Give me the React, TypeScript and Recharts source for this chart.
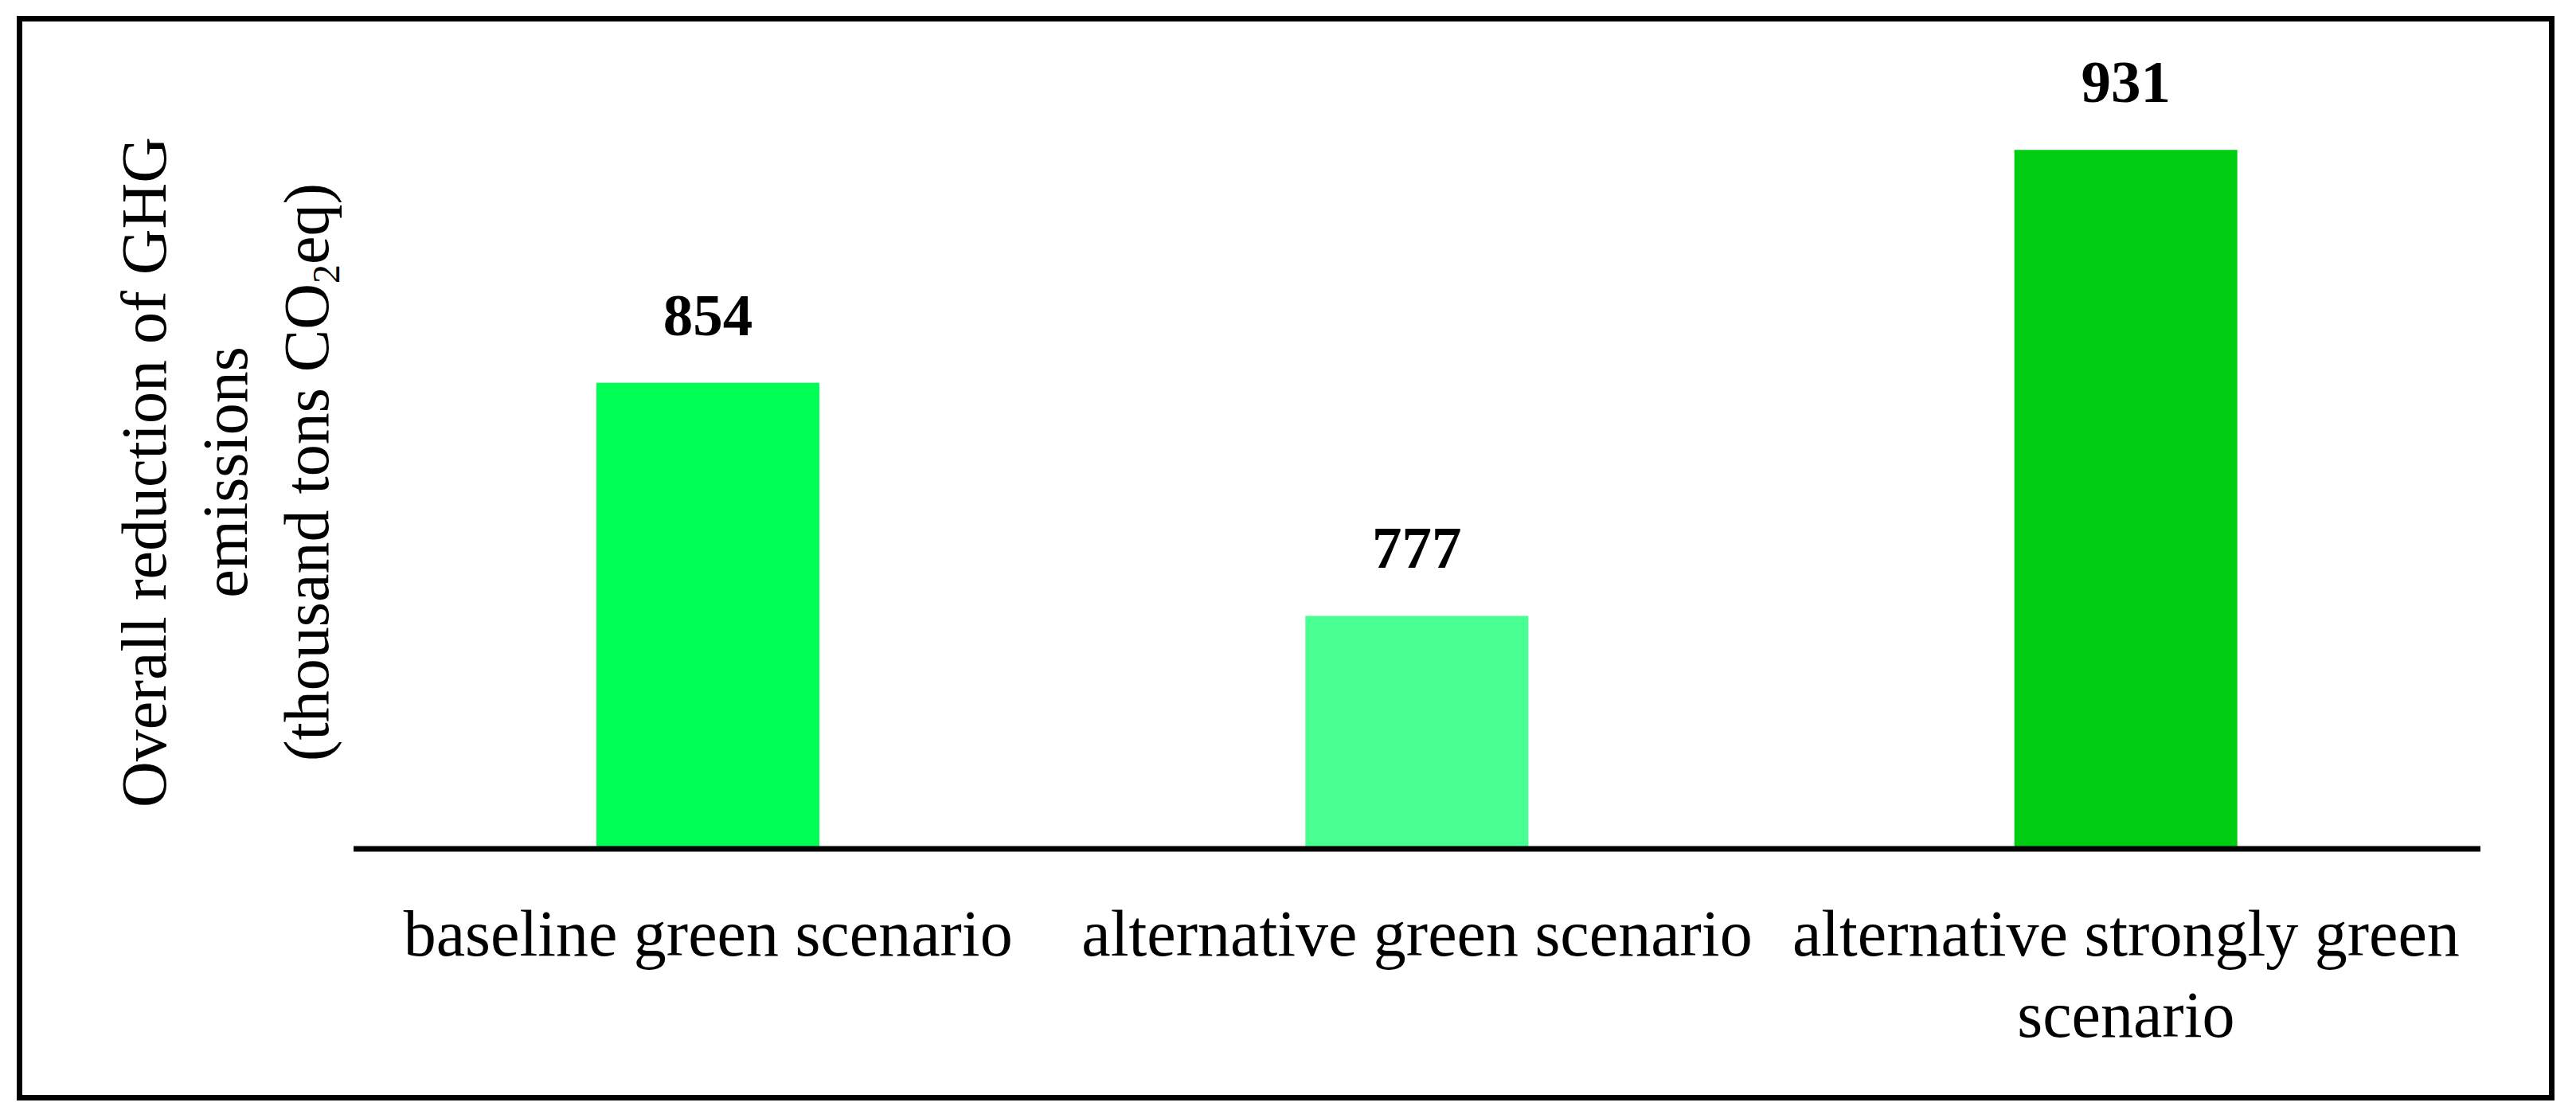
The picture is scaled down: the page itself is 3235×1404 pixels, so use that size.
import React from 'react';
import { BarChart, Bar, XAxis, YAxis, Cell, LabelList } from 'recharts';

const categories = [
  'baseline green scenario',
  'alternative green scenario',
  'alternative strongly green scenario',
];
const tickLabelLines = [
  ['baseline green scenario'],
  ['alternative green scenario'],
  ['alternative strongly green', 'scenario'],
];
const values = [854, 777, 931];
const barColors = ['#00FF55', '#48FF92', '#00CC11'];
const yTitleLine1 = 'Overall reduction of GHG';
const yTitleLine2 = 'emissions';
const yTitleLine3Pre = '(thousand tons CO';
const yTitleLine3Sub = '2';
const yTitleLine3Post = 'eq)';
const yDomain: [number, number] = [700, 950];

const data = categories.map((name, i) => ({ name, value: values[i] }));

const FONT = '"Liberation Serif", "Times New Roman", serif';

function CategoryTick(props: any) {
  const { x, y, payload } = props;
  const idx = categories.indexOf(payload.value);
  const lines = idx >= 0 ? tickLabelLines[idx] : [String(payload.value)];
  const baseY = y + 126;
  return (
    <g>
      {lines.map((line: string, i: number) => (
        <text
          key={i}
          x={x}
          y={baseY + i * 102}
          textAnchor="middle"
          fontSize={82}
          fontFamily={FONT}
          fill="#000"
        >
          {line}
        </text>
      ))}
    </g>
  );
}

function ValueLabel(props: any) {
  const vb = props.viewBox || {};
  const x = props.x ?? vb.x;
  const y = props.y ?? vb.y;
  const width = props.width ?? vb.width;
  return (
    <text
      x={x + width / 2}
      y={y - 60}
      textAnchor="middle"
      fontSize={75}
      fontWeight="bold"
      fontFamily={FONT}
      fill="#000"
    >
      {props.value}
    </text>
  );
}

function YTitle(props: any) {
  const vb = props.viewBox || { x: 0, y: 116, width: 444, height: 950 };
  const cy = vb.y + vb.height / 2 + 2;
  const bx = vb.x + 208;
  return (
    <g transform={`translate(${bx}, ${cy}) rotate(-90)`}>
      <text x={0} y={0} textAnchor="middle" fontSize={80} fontFamily={FONT} fill="#000">
        {yTitleLine1}
      </text>
      <text x={0} y={102} textAnchor="middle" fontSize={80} fontFamily={FONT} fill="#000">
        {yTitleLine2}
      </text>
      <text x={0} y={204} textAnchor="middle" fontSize={80} fontFamily={FONT} fill="#000">
        {yTitleLine3Pre}
        <tspan dy={14} fontSize={48}>{yTitleLine3Sub}</tspan>
        <tspan dy={-14}>{yTitleLine3Post}</tspan>
      </text>
    </g>
  );
}

export default function App() {
  return (
    <div style={{ position: 'absolute', left: 0, top: 0, width: 3235, height: 1404, background: '#fff' }}>
      <BarChart
        width={3235}
        height={1404}
        data={data}
        margin={{ top: 116, right: 120, bottom: 138, left: 0 }}
        barSize={280}
      >
        <XAxis
          dataKey="name"
          height={200}
          interval={0}
          axisLine={{ stroke: '#000', strokeWidth: 7 }}
          tickLine={false}
          tick={<CategoryTick />}
        />
        <YAxis
          type="number"
          domain={yDomain}
          width={444}
          axisLine={false}
          tickLine={false}
          tick={false}
          allowDataOverflow
          label={{ content: <YTitle /> }}
        />
        <Bar dataKey="value" isAnimationActive={false}>
          {data.map((d, i) => (
            <Cell key={d.name} fill={barColors[i]} />
          ))}
          <LabelList dataKey="value" content={<ValueLabel />} />
        </Bar>
      </BarChart>
      <div
        style={{
          position: 'absolute',
          left: 21,
          top: 20,
          width: 3187,
          height: 1362,
          boxSizing: 'border-box',
          border: '7px solid #000',
          pointerEvents: 'none',
        }}
      />
    </div>
  );
}
